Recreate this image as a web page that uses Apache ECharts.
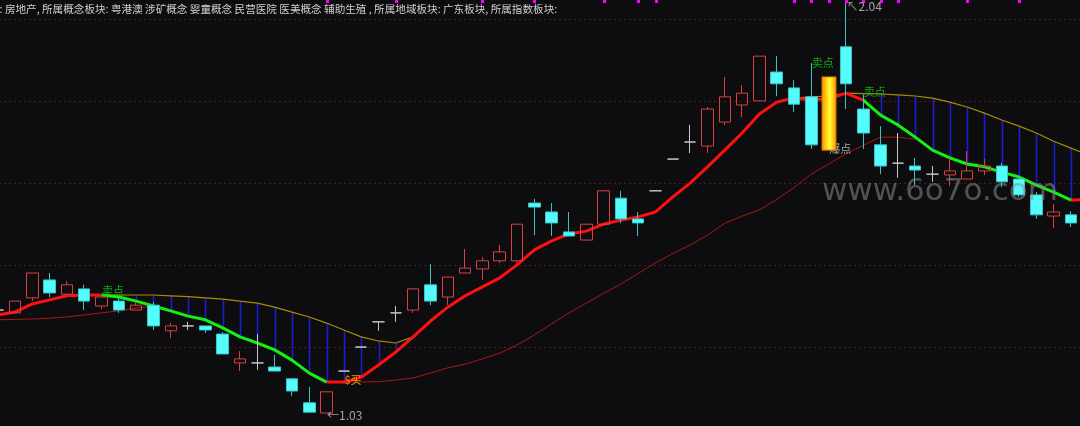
<!DOCTYPE html>
<html><head><meta charset="utf-8">
<script src="https://cdn.jsdelivr.net/npm/echarts@6/dist/echarts.min.js"></script>
<style>html,body{margin:0;padding:0;background:#0d0d0f;overflow:hidden;width:1080px;height:426px;position:relative;}
#c{position:absolute;left:-11px;top:0;width:1108px;height:426px;}</style>
</head><body><div id="c"></div>
<script>
// ---- data (category index 0 is the partly hidden bar at the left edge, 63 is beyond the right edge)
const categories = Array.from({length: 64}, (_, i) => 'D' + (i + 1));
// [open, close, low, high]
const ohlc = [
 [1.283,1.283,1.283,1.283],[1.276,1.305,1.276,1.305],[1.313,1.374,1.305,1.374],[1.357,1.325,1.315,1.374],
 [1.322,1.345,1.320,1.354],[1.335,1.305,1.283,1.345],[1.293,1.315,1.286,1.315],[1.305,1.283,1.276,1.315],
 [1.283,1.295,1.283,1.303],[1.295,1.244,1.234,1.303],[1.232,1.244,1.214,1.251],[1.244,1.244,1.234,1.254],
 [1.244,1.234,1.227,1.244],[1.224,1.175,1.175,1.229],[1.153,1.163,1.133,1.182],[1.153,1.153,1.136,1.224],
 [1.143,1.133,1.133,1.173],[1.114,1.084,1.072,1.114],[1.055,1.032,1.032,1.094],[1.030,1.082,1.030,1.082],
 [1.133,1.133,1.133,1.133],[1.192,1.192,1.192,1.192],[1.254,1.254,1.232,1.254],[1.276,1.276,1.254,1.293],
 [1.283,1.335,1.276,1.335],[1.345,1.305,1.295,1.396],[1.315,1.364,1.295,1.364],[1.374,1.386,1.374,1.433],
 [1.384,1.404,1.357,1.413],[1.404,1.426,1.399,1.443],[1.404,1.494,1.399,1.494],[1.546,1.536,1.467,1.556],
 [1.524,1.497,1.465,1.546],[1.475,1.465,1.465,1.524],[1.455,1.494,1.455,1.494],[1.494,1.576,1.494,1.576],
 [1.558,1.507,1.497,1.576],[1.507,1.497,1.465,1.524],[1.576,1.576,1.576,1.576],[1.654,1.654,1.654,1.654],
 [1.696,1.696,1.669,1.738],[1.686,1.777,1.669,1.782],[1.745,1.807,1.738,1.856],[1.787,1.816,1.757,1.836],
 [1.797,1.907,1.797,1.907],[1.868,1.839,1.809,1.907],[1.829,1.789,1.770,1.848],[1.807,1.689,1.679,1.890],
 ['-','-','-','-'],[1.930,1.839,1.777,2.040],[1.777,1.718,1.679,1.812],[1.689,1.637,1.617,1.735],
 [1.644,1.644,1.608,1.718],[1.637,1.627,1.590,1.657],[1.617,1.617,1.598,1.637],[1.615,1.625,1.588,1.657],
 [1.605,1.625,1.605,1.674],[1.625,1.637,1.615,1.654],[1.637,1.598,1.585,1.644],[1.605,1.566,1.561,1.608],
 [1.566,1.517,1.507,1.573],[1.514,1.524,1.485,1.544],[1.517,1.497,1.487,1.526],['-','-','-','-']
];
// fast trend line (thick, red rising / green falling)
const fastLine = [1.271,1.278,1.298,1.308,1.318,1.320,1.320,1.315,1.305,1.293,1.281,1.268,1.259,1.239,1.217,1.202,
 1.185,1.160,1.128,1.106,1.106,1.118,1.148,1.180,1.217,1.256,1.290,1.318,1.340,1.362,1.394,1.431,
 1.453,1.470,1.477,1.494,1.504,1.512,1.524,1.561,1.595,1.635,1.676,1.718,1.765,1.794,1.804,1.799,
 1.802,1.816,1.799,1.762,1.738,1.708,1.676,1.657,1.642,1.635,1.622,1.610,1.590,1.573,1.553,1.556];
const greenSpans = [[6, 19], [50, 62]];
// slow line (thin dark red)
const slowLine = [1.259,1.260,1.261,1.263,1.266,1.271,1.276,1.281,1.288,1.293,null,null,null,null,null,null,
 null,null,null,1.106,1.106,1.106,1.107,1.111,1.116,1.128,1.141,1.150,1.163,1.177,1.197,1.222,
 1.249,1.276,1.300,1.324,1.347,1.373,1.399,1.422,1.443,1.467,1.496,1.514,1.529,1.555,1.584,1.617,
 1.642,1.667,1.688,1.708,1.708,1.703,null,null,null,null,null,null,null,null,null,null];
// upper (yellow) line
const upperLine = [null,null,null,null,null,null,1.320,1.320,1.320,1.320,1.318,1.316,1.313,1.310,1.305,1.300,
 1.290,1.278,1.266,1.251,1.234,1.217,1.207,1.202,1.217,null,null,null,null,null,null,null,
 null,null,null,null,null,null,null,null,null,null,null,null,null,null,1.804,1.807,
 1.809,1.816,1.815,1.814,1.812,1.809,1.804,1.794,1.782,1.767,1.750,1.735,1.718,1.698,1.681,1.664];
// special highlighted bar
const boomIdx = [48];
const boomTop = [1.856];
const boomBottom = [1.676];
// top signal ticks
const markIdx = [19,23,28,31,35,37,38,46,47,48,49,50,51,52,56,59];
// text annotations
const noteIdx = [6, 47, 50, 48, 20, 19, 49];
const notePrice = [1.330, 1.890, 1.819, 1.679, 1.111, 1.025, 2.028];
const noteText = ['卖点', '卖点', '卖点', '爆点', '$买', '←1.03', '↖2.04'];
const headerText = '块: 房地产, 所属概念板块: 粤港澳 涉矿概念 婴童概念 民营医院 医美概念 辅助生殖 , 所属地域板块: 广东板块, 所属指数板块:';
const watermark = 'www.6o7o.com';

// ---- build
const OFFSET = 11; // chart container starts 11px left of the window
const inGreen = k => greenSpans.some(s => k >= s[0] && k <= s[1]);
const inGreenStrict = k => greenSpans.some(s => k > s[0] && k < s[1]);
const redData = fastLine.map((v, k) => inGreenStrict(k) ? null : v);
const greenData = fastLine.map((v, k) => inGreen(k) ? v : null);
const blueData = [];
upperLine.forEach((v, k) => { if (v != null && fastLine[k] != null && Math.abs(v - fastLine[k]) > 0.002) blueData.push([k, v, fastLine[k]]); });
const noteColors = {'卖点': '#18d018', '爆点': '#c8c8c8', '$买': '#ffc800'};
const noteData = noteIdx.map((k, i) => ({
  value: [k, notePrice[i]], name: noteText[i],
  label: {color: noteColors[noteText[i]] || '#c8c8c8', fontSize: noteText[i].length > 3 ? 12 : 11}
}));

const chart = echarts.init(document.getElementById('c'), null, {renderer: 'canvas'});
const lineBase = {type: 'line', symbol: 'none', smooth: false, connectNulls: false, animation: false, silent: true};
chart.setOption({
  backgroundColor: '#0d0d0f',
  animation: false,
  grid: [
    {left: 0, right: 0, top: 0, bottom: 0},
    {left: 0, right: 0, top: 19, height: 328}
  ],
  xAxis: [
    {type: 'category', data: categories, boundaryGap: true, show: false, gridIndex: 0},
    {type: 'value', gridIndex: 1, show: false, min: 0, max: 1}
  ],
  yAxis: [
    {type: 'value', min: 0.998, max: 2.045, show: false, gridIndex: 0, splitLine: {show: false}},
    {type: 'value', gridIndex: 1, min: 0, max: 4, interval: 1,
     axisLine: {show: false}, axisTick: {show: false}, axisLabel: {show: false},
     splitLine: {show: true, lineStyle: {color: '#5a1616', type: [2, 3], width: 1}}}
  ],
  series: [
    Object.assign({}, lineBase, {name: 'slow', data: slowLine, z: 2, lineStyle: {color: '#a81616', width: 1}}),
    Object.assign({}, lineBase, {name: 'upper', data: upperLine, z: 2, lineStyle: {color: '#a88c00', width: 1.2}}),
    {type: 'custom', name: 'gap', z: 2, silent: true, data: blueData, encode: {x: 0, y: [1, 2]},
     renderItem: function (params, api) {
       const p1 = api.coord([api.value(0), api.value(1)]);
       const p2 = api.coord([api.value(0), api.value(2)]);
       const x = Math.round(p1[0]) + 0.5;
       return {type: 'line', shape: {x1: x, y1: p1[1], x2: x, y2: p2[1]}, style: {stroke: '#1c1cdc', lineWidth: 1.5}};
     }},
    Object.assign({}, lineBase, {name: 'fastUp', data: redData, z: 3, lineStyle: {color: '#ff1010', width: 3}}),
    Object.assign({}, lineBase, {name: 'fastDown', data: greenData, z: 3, lineStyle: {color: '#14f014', width: 3}}),
    {type: 'candlestick', name: 'K', data: ohlc, barWidth: 12, z: 4, silent: true,
     itemStyle: {color: 'transparent', color0: '#54fcfc', borderColor: '#d84040', borderColor0: '#3cc4c4',
                 borderColorDoji: '#c8c8c8', borderWidth: 1}},
    {type: 'scatter', name: 'notes', data: noteData.filter(d => d.name === '爆点'), z: 5, symbolSize: 1,
     itemStyle: {color: 'transparent'}, silent: true,
     label: {show: true, position: 'right', distance: 0, formatter: p => p.name, fontFamily: 'Noto Sans CJK SC', verticalAlign: 'middle'}},
    {type: 'custom', name: 'boom', z: 6, silent: true,
     data: boomIdx.map((k, i) => [k, boomTop[i], boomBottom[i]]), encode: {x: 0, y: [1, 2]},
     renderItem: function (params, api) {
       const p1 = api.coord([api.value(0), api.value(1)]);
       const p2 = api.coord([api.value(0), api.value(2)]);
       return {type: 'rect', shape: {x: Math.round(p1[0]) - 7, y: p1[1], width: 14, height: p2[1] - p1[1]},
         style: {fill: {type: 'linear', x: 0, y: 0, x2: 1, y2: 0, colorStops: [
           {offset: 0, color: '#ff9000'}, {offset: 0.55, color: '#ffff30'}, {offset: 1, color: '#ff9000'}]},
           stroke: '#d87000', lineWidth: 1}};
     }},
    {type: 'scatter', name: 'notes2', data: noteData.filter(d => d.name !== '爆点'), z: 7, symbolSize: 1,
     itemStyle: {color: 'transparent'}, silent: true,
     label: {show: true, position: 'right', distance: 0, formatter: p => p.name, fontFamily: 'Noto Sans CJK SC', verticalAlign: 'middle'}},
    {type: 'custom', name: 'marks', z: 7, silent: true, data: markIdx.map(k => [k, 2.0]), encode: {x: 0, y: 1},
     renderItem: function (params, api) {
       const p = api.coord([api.value(0), api.value(1)]);
       return {type: 'rect', shape: {x: Math.round(p[0]) - 1, y: params.coordSys.y, width: 3, height: 3}, style: {fill: '#ff00ff'}};
     }}
  ],
  graphic: [
    {type: 'text', x: OFFSET - 11, y: 4, z: 20, style: {text: headerText, fill: '#d0d0d0', font: '10.6px "Noto Sans CJK SC"'}},
    {type: 'text', x: OFFSET + 822, y: 192, z: 20, style: {text: watermark, fill: 'rgba(140,140,140,0.55)', font: '31px "DejaVu Sans"', verticalAlign: 'middle'}}
  ]
});
</script></body></html>
